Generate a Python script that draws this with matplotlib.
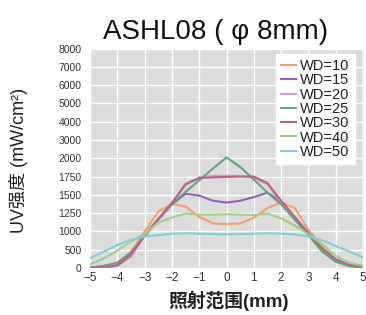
import numpy as np
import matplotlib
matplotlib.use("Agg")
import matplotlib.pyplot as plt

plt.rcParams['font.family'] = ['Liberation Sans', 'Noto Sans CJK SC', 'DejaVu Sans']

# irradiation range (mm)
x = [-5, -4.5, -4, -3.5, -3, -2.5, -2, -1.5, -1, -0.5, 0,
     0.5, 1, 1.5, 2, 2.5, 3, 3.5, 4, 4.5, 5]

wd10 = [5, 20, 100, 450, 1000, 1270, 1375, 1340, 1200, 1110, 1100,
        1110, 1190, 1320, 1395, 1320, 1020, 620, 220, 60, 15]
wd15 = [5, 20, 60, 330, 880, 1160, 1370, 1515, 1490, 1420, 1395,
        1420, 1470, 1530, 1410, 1190, 940, 520, 200, 70, 25]
wd20 = [10, 30, 70, 350, 870, 1160, 1380, 1630, 1740, 1760, 1760,
        1760, 1740, 1640, 1400, 1180, 930, 480, 190, 60, 20]
wd25 = [20, 60, 150, 430, 880, 1170, 1380, 1540, 1700, 1860, 2050,
        1880, 1710, 1530, 1370, 1160, 900, 450, 170, 50, 15]
wd30 = [10, 30, 80, 370, 900, 1170, 1390, 1650, 1730, 1740, 1745,
        1750, 1750, 1660, 1420, 1200, 950, 540, 240, 90, 40]
wd40 = [100, 260, 480, 720, 930, 1120, 1190, 1245, 1230, 1230, 1235,
        1230, 1225, 1245, 1180, 1080, 920, 650, 330, 150, 60]
wd50 = [270, 450, 630, 770, 860, 900, 940, 950, 940, 930, 920,
        930, 940, 950, 940, 920, 860, 760, 600, 450, 290]

series = [("WD=10", wd10, "#f5a06a"),
          ("WD=15", wd15, "#9b5fb5"),
          ("WD=20", wd20, "#d69ad6"),
          ("WD=25", wd25, "#5fa67c"),
          ("WD=30", wd30, "#b8628a"),
          ("WD=40", wd40, "#9fd08a"),
          ("WD=50", wd50, "#7fcfd6")]

y_ticks = [0, 500, 1000, 1250, 1500, 1750, 2000, 3000, 4000, 5000, 6000, 7000, 8000]
x_ticks = [-5, -4, -3, -2, -1, 0, 1, 2, 3, 4, 5]

# uneven y axis: every tick equally spaced
idx = np.arange(len(y_ticks))
def fwd(v):
    return np.interp(v, y_ticks, idx)
def inv(v):
    return np.interp(v, idx, y_ticks)

fig = plt.figure(figsize=(3.66, 3.15), dpi=100)
ax = fig.add_axes([0.246, 0.149, 0.746, 0.697])
ax.set_facecolor("#dcdcdc")

for label, vals, col in series:
    ax.plot(x, vals, color=col, lw=1.5, label=label)

ax.set_yscale('function', functions=(fwd, inv))
ax.set_ylim(0, 8000)
ax.set_xlim(-5, 5)
ax.set_yticks(y_ticks)
ax.set_yticklabels([str(t) for t in y_ticks])
ax.set_xticks(x_ticks)
ax.set_xticklabels([f"\u2212{-t}" if t < 0 else str(t) for t in x_ticks])
ax.grid(True, color="white", lw=1)
ax.set_axisbelow(True)
for s in ax.spines.values():
    s.set_visible(False)
ax.tick_params(length=0, colors="#333333")
ax.tick_params(axis='y', labelsize=7.5, pad=6)
ax.tick_params(axis='x', labelsize=8.5, pad=3)

leg = ax.legend(loc="upper right", bbox_to_anchor=(0.97, 0.975), fontsize=10.5,
                frameon=True, fancybox=False, framealpha=1, edgecolor="white",
                handlelength=1.0, handletextpad=0.3, labelspacing=0.02,
                borderpad=0.35, borderaxespad=0)
for t in leg.get_texts():
    t.set_color("#222222")

fig.text(0.59, 0.875, "ASHL08 ( φ 8mm)", ha="center", va="baseline",
         fontsize=20, color="#111111")
fig.text(0.05, 0.49, "UV强度 (mW/cm²)", rotation=90, ha="center", va="center",
         fontsize=13, color="#222222")
fig.text(0.625, 0.045, "照射范围(mm)", ha="center", va="center",
         fontsize=13.5, fontweight="bold", color="#222222")

fig.savefig("out.png", dpi=100)
